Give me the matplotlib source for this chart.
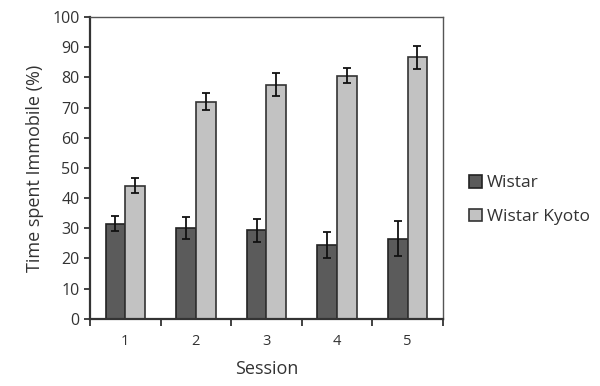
import numpy as np
import matplotlib
matplotlib.use("Agg")
from matplotlib import pyplot as plt

sessions = ["1", "2", "3", "4", "5"]
wistar = [31.5, 30.0, 29.4, 24.5, 26.6]
wistar_err = [2.5, 3.6, 3.8, 4.2, 5.7]
kyoto = [44.1, 72.0, 77.6, 80.6, 86.6]
kyoto_err = [2.5, 2.8, 3.7, 2.5, 3.8]

plt.rcParams['font.family'] = ['Open Sans', 'DejaVu Sans']

fig = plt.figure(figsize=(6, 3.86), dpi=100)
ax = fig.add_axes([0.15, 0.174, 0.588, 0.782])

x = np.arange(len(sessions))
w = 0.28
ekw = dict(elinewidth=1.3, capthick=1.3, ecolor='#111111')
ax.bar(x - w / 2, wistar, w, yerr=wistar_err, capsize=3, color='#5b5b5b',
       edgecolor='#222222', linewidth=1.2, error_kw=ekw, label='Wistar')
ax.bar(x + w / 2, kyoto, w, yerr=kyoto_err, capsize=3, color='#c2c2c2',
       edgecolor='#333333', linewidth=1.2, error_kw=ekw, label='Wistar Kyoto')

ax.set_xlim(-0.5, len(sessions) - 0.5)
ax.set_ylim(0, 100)
ax.set_yticks(range(0, 101, 10))
ax.set_xticks(x)
ax.set_xticklabels(sessions)
ax.set_xticks(np.arange(-0.5, len(sessions), 1), minor=True)
ax.tick_params(axis='x', which='major', length=0, pad=11, labelsize=10.5, colors='#333333')
ax.tick_params(axis='x', which='minor', length=5, width=1.3, direction='out', color='#333333')
ax.tick_params(axis='y', length=4, width=1.3, direction='out', labelsize=11.5, colors='#333333')

for s in ['left', 'bottom']:
    ax.spines[s].set_linewidth(1.6)
    ax.spines[s].set_color('#333333')
for s in ['top', 'right']:
    ax.spines[s].set_linewidth(1.0)
    ax.spines[s].set_color('#555555')

ax.set_xlabel('Session', fontsize=13, color='#333333', labelpad=8)
ax.set_ylabel('Time spent Immobile (%)', fontsize=13, color='#333333', labelpad=6)

ax.legend(loc='center left', bbox_to_anchor=(1.03, 0.394), frameon=False, fontsize=12.5,
          handlelength=0.75, handleheight=0.75, handletextpad=0.3, labelspacing=1.0,
          labelcolor='#333333')

fig.savefig('out.png', dpi=100)
